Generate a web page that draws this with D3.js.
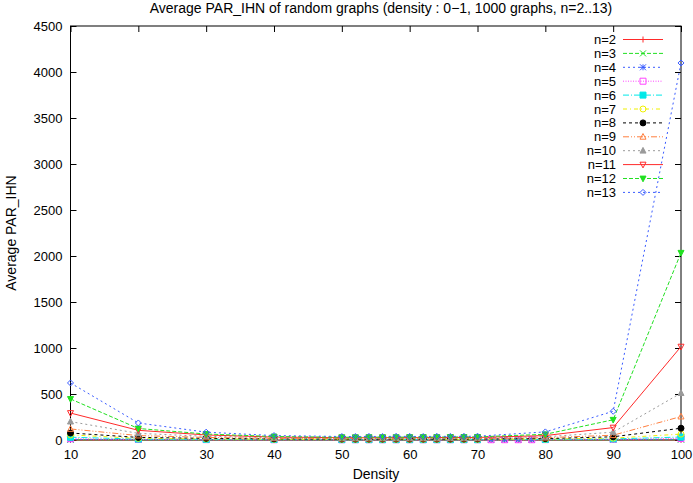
<!DOCTYPE html>
<meta charset="utf-8" />
<script src="https://d3js.org/d3.v7.min.js"></script>
<style>
  body { margin: 0; background: #fff; }
  text { font-family: "Liberation Sans", Arial, Helvetica, sans-serif; font-size: 13px; fill: #000; }
</style>
<div id="my_dataviz"></div>
<script>
  // densities (x values)
  var densities = [10, 20, 30, 40, 50, 52, 54, 56, 58, 60, 62, 64, 66, 68, 70, 72, 74, 76, 78, 80, 90, 100];

  // average PAR_IHN per n (null = no point)
  var n2  = [1, 1, 1, 1, 1, 1, 1, 1, 1, 1, 1, 1, 1, 1, 1, 1, 1, 1, 1, 1, 1, 2];
  var n3  = [3, 2, 2, 2, 2, 2, 2, 2, 2, 2, 2, 2, 2, 2, 2, 2, 2, 2, 2, 2, 2, 4];
  var n4  = [6, 3, 2, 2, 2, 2, 2, 2, 2, 2, 2, 2, 2, 2, 2, 2, 2, 2, 2, 3, 4, 8];
  var n5  = [14, 6, 4, 3, 3, 3, 3, 3, 3, 3, 3, 3, 3, 3, 3, 3, 3, 3, 3, 4, 8, 16];
  var n6  = [30, 10, 7, 5, 4, 4, 4, 4, 4, 4, 4, 4, 4, 4, 4, null, null, null, null, 6, 12, 32];
  var n7  = [55, 18, 12, 8, 7, 7, 7, 7, 7, 7, 7, 7, 7, 7, 7, null, null, null, null, 10, 20, 64];
  var n8  = [76, 28, 18, 12, 10, 10, 10, 10, 10, 10, 10, 10, 10, 10, 11, null, null, null, null, 15, 35, 128];
  var n9  = [120, 48, 28, 18, 15, 15, 15, 15, 15, 15, 15, 15, 16, 16, 16, null, null, null, null, 25, 52, 255];
  var n10 = [200, 72, 40, 25, 20, 20, 20, 20, 20, 21, 21, 21, 21, 22, 22, null, null, null, null, 35, 85, 510];
  var n11 = [293, 105, 55, 32, 25, 25, 25, 26, 26, 26, 26, 27, 27, 27, 28, null, null, null, null, 48, 135, 1015];
  var n12 = [446, 125, 65, 38, 30, 30, 31, 31, 31, 32, 32, 32, 33, 33, 34, null, null, null, null, 62, 220, 2035];
  var n13 = [620, 185, 85, 48, 38, 38, 39, 38, 40, 39, 38, 40, 39, 40, 41, null, null, null, null, 88, 312, 4098];

  var seriesNames = ["n=2", "n=3", "n=4", "n=5", "n=6", "n=7", "n=8", "n=9", "n=10", "n=11", "n=12", "n=13"];
  var seriesValues = [n2, n3, n4, n5, n6, n7, n8, n9, n10, n11, n12, n13];

  // ticks
  var xTicks = [10, 20, 30, 40, 50, 60, 70, 80, 90, 100];
  var yTicks = [0, 500, 1000, 1500, 2000, 2500, 3000, 3500, 4000, 4500];

  // gnuplot-like styles
  var colors = ["#ff2a2a", "#22e022", "#3a5cff", "#ff44ff", "#00e8e8", "#f0f000", "#000000", "#ff7f3f", "#9a9a9a", "#ff2a2a", "#22e022", "#3a5cff"];
  var dashes = ["", "4,2", "2,3", "1,1.5", "6,2,1,2", "4,3,1,3", "3,3", "6,2,1,2,1,2", "2,3", "", "4,2", "2,3"];
  var markers = ["plus", "cross", "star", "square", "squareF", "circle", "circleF", "tri", "triF", "triDown", "triDownF", "diamond"];

  var width = 693, height = 483;
  var x0 = 70.5, x1 = 681, y0 = 440, y1 = 26;

  var svg = d3.select("#my_dataviz").append("svg")
    .attr("width", width).attr("height", height);

  var x = d3.scaleLinear().domain([10, 100]).range([x0, x1]);
  var y = d3.scaleLinear().domain([0, 4500]).range([y0, y1]);

  // axes: bottom/left with labels, top/right mirror ticks, all ticks inward
  svg.append("g").attr("transform", "translate(0," + y0 + ")")
    .call(d3.axisBottom(x).tickValues(xTicks).tickFormat(d3.format("d")).tickSize(-6).tickPadding(10).tickSizeOuter(0));
  svg.append("g").attr("transform", "translate(" + x0 + ",0)")
    .call(d3.axisLeft(y).tickValues(yTicks).tickFormat(d3.format("d")).tickSize(-6).tickPadding(8).tickSizeOuter(0));
  svg.append("g").attr("transform", "translate(0," + y1 + ")")
    .call(d3.axisTop(x).tickValues(xTicks).tickSize(-6).tickFormat("").tickSizeOuter(0));
  svg.append("g").attr("transform", "translate(" + x1 + ",0)")
    .call(d3.axisRight(y).tickValues(yTicks).tickSize(-6).tickFormat("").tickSizeOuter(0));
  svg.selectAll(".domain").remove();
  svg.selectAll(".tick line").attr("stroke", "#000");
  svg.selectAll(".tick text").style("font-size", "13px").attr("font-family", null);
  svg.append("rect").attr("x", x0).attr("y", y1).attr("width", x1 - x0).attr("height", y0 - y1)
    .attr("fill", "none").attr("stroke", "#000").attr("stroke-width", 1);

  // marker shapes
  function markerPath(type, s) {
    switch (type) {
      case "plus": return "M" + -s + ",0H" + s + "M0," + -s + "V" + s;
      case "cross": return "M" + -s + "," + -s + "L" + s + "," + s + "M" + -s + "," + s + "L" + s + "," + -s;
      case "star": return "M" + -s + ",0H" + s + "M0," + -s + "V" + s + "M" + -s + "," + -s + "L" + s + "," + s + "M" + -s + "," + s + "L" + s + "," + -s;
      case "square": case "squareF": return "M" + -s + "," + -s + "H" + s + "V" + s + "H" + -s + "Z";
      case "circle": case "circleF": return d3.arc()({ innerRadius: 0, outerRadius: s, startAngle: 0, endAngle: 2 * Math.PI });
      case "tri": case "triF": return "M0," + (-s * 1.1) + "L" + s + "," + (s * 0.8) + "L" + -s + "," + (s * 0.8) + "Z";
      case "triDown": case "triDownF": return "M0," + (s * 1.1) + "L" + s + "," + (-s * 0.8) + "L" + -s + "," + (-s * 0.8) + "Z";
      case "diamond": return "M0," + -s + "L" + s + ",0L0," + s + "L" + -s + ",0Z";
    }
  }
  function isFilled(type) { return /F$/.test(type); }

  var line = d3.line()
    .x(function (d) { return x(d[0]); })
    .y(function (d) { return y(d[1]); });

  seriesValues.forEach(function (vals, i) {
    var pts = densities.map(function (d, j) { return [d, vals[j]]; });
    var drawn = pts.filter(function (p) { return p[1] != null; });
    var g = svg.append("g");
    g.append("path").datum(drawn).attr("d", line)
      .attr("fill", "none").attr("stroke", colors[i]).attr("stroke-width", 1)
      .attr("stroke-dasharray", dashes[i] || null);
    g.selectAll("path.pt").data(drawn).enter().append("path")
      .attr("class", "pt")
      .attr("transform", function (p) { return "translate(" + x(p[0]) + "," + y(p[1]) + ")"; })
      .attr("d", markerPath(markers[i], 3))
      .attr("fill", isFilled(markers[i]) ? colors[i] : "none")
      .attr("stroke", colors[i]).attr("stroke-width", 1);
  });

  // legend
  var legend = svg.append("g");
  seriesNames.forEach(function (name, i) {
    var ly = 39.5 + i * 13.9;
    legend.append("text").attr("x", 616).attr("y", ly + 4.5).attr("text-anchor", "end").text(name);
    legend.append("line").attr("x1", 623).attr("x2", 663).attr("y1", ly).attr("y2", ly)
      .attr("stroke", colors[i]).attr("stroke-dasharray", dashes[i] || null);
    legend.append("path").attr("transform", "translate(643," + ly + ")")
      .attr("d", markerPath(markers[i], 3))
      .attr("fill", isFilled(markers[i]) ? colors[i] : "none")
      .attr("stroke", colors[i]);
  });

  // titles
  svg.append("text").attr("x", 381).attr("y", 13).attr("text-anchor", "middle").style("font-size", "14px")
    .text("Average PAR_IHN of random graphs (density : 0\u22121, 1000 graphs, n=2..13)");
  svg.append("text").attr("x", 376).attr("y", 479).attr("text-anchor", "middle").style("font-size", "14px").text("Density");
  svg.append("text").attr("transform", "translate(16,233) rotate(-90)").attr("text-anchor", "middle").style("font-size", "14px")
    .text("Average PAR_IHN");
</script>
